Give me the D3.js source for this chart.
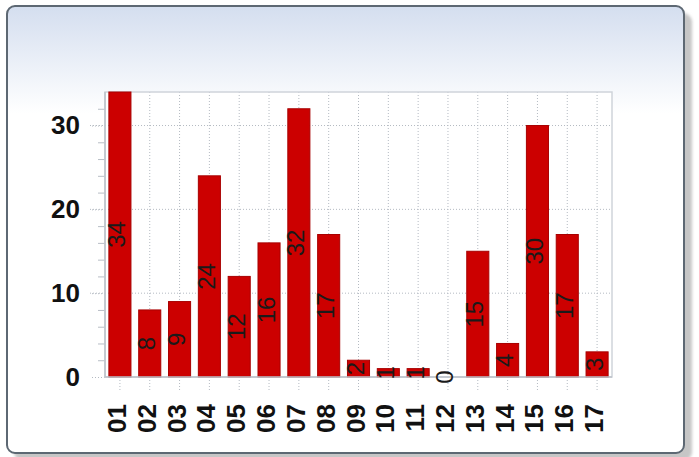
<!DOCTYPE html>
<html>
<head>
<meta charset="utf-8">
<script src="https://cdn.jsdelivr.net/npm/d3@7"></script>
<style>
html,body{margin:0;padding:0;background:#fff;}
svg{display:block;}
</style>
</head>
<body>
<svg id="chart" width="699" height="457"></svg>
<script>
const categories = ["01","02","03","04","05","06","07","08","09","10","11","12","13","14","15","16","17"];
const values = [34, 8, 9, 24, 12, 16, 32, 17, 2, 1, 1, 0, 15, 4, 30, 17, 3];
const yMajorTicks = [0, 10, 20, 30];
const yMinorTicks = [2,4,6,8,12,14,16,18,22,24,26,28,32];

const svg = d3.select("#chart");
const font = "'Liberation Sans', Arial, sans-serif";

const defs = svg.append("defs");
const grad = defs.append("linearGradient").attr("id","bg").attr("x1",0).attr("y1",0).attr("x2",0).attr("y2",1);
grad.append("stop").attr("offset","0").attr("stop-color","#d4deef");
grad.append("stop").attr("offset","0.24").attr("stop-color","#ffffff");
grad.append("stop").attr("offset","1").attr("stop-color","#ffffff");
const blur = defs.append("filter").attr("id","sh").attr("x","-5%").attr("y","-5%").attr("width","110%").attr("height","110%");
blur.append("feGaussianBlur").attr("stdDeviation",1.5);

// panel shadow + panel
svg.append("rect").attr("x",14).attr("y",13).attr("width",678).attr("height",448)
  .attr("rx",9).attr("fill","#c6c6c6").attr("filter","url(#sh)");
svg.append("rect").attr("x",7).attr("y",6).attr("width",677).attr("height",447)
  .attr("rx",8).attr("fill","url(#bg)").attr("stroke","#5d6873").attr("stroke-width",2);

const L = 105, R = 612, T = 92, B = 377;
const x = d3.scaleBand().domain(categories).range([L, R]).paddingInner(0.26).paddingOuter(0.13);
const y = d3.scaleLinear().domain([0, 34]).range([B, T]);

// plot background
svg.append("rect").attr("x",L).attr("y",T).attr("width",R-L).attr("height",B-T).attr("fill","#ffffff");

const gridColor = "#b4bac2";

// vertical dotted grid at bar centers (extending below axis as ticks)
svg.append("g").selectAll("line").data(categories).join("line")
  .attr("x1", d => x(d) + x.bandwidth()/2).attr("x2", d => x(d) + x.bandwidth()/2)
  .attr("y1", T).attr("y2", B + 15)
  .attr("stroke", gridColor).attr("stroke-width",1).attr("stroke-dasharray","1,2");

// horizontal dotted grid at major ticks (extending left of axis)
svg.append("g").selectAll("line").data(yMajorTicks.filter(v => v > 0)).join("line")
  .attr("x1", L - 15).attr("x2", R)
  .attr("y1", d => y(d)).attr("y2", d => y(d))
  .attr("stroke", gridColor).attr("stroke-width",1).attr("stroke-dasharray","1,2");

// minor ticks
const minorAxis = d3.axisLeft(y).tickValues(yMinorTicks).tickSize(7).tickFormat("");
const gm = svg.append("g").attr("transform",`translate(${L},0)`).call(minorAxis);
gm.select(".domain").remove();
gm.selectAll(".tick line").attr("stroke","#b8bec6");

// major y axis labels
const majorAxis = d3.axisLeft(y).tickValues(yMajorTicks).tickSize(15).tickPadding(10);
const gy = svg.append("g").attr("transform",`translate(${L},0)`).call(majorAxis);
gy.select(".domain").remove();
gy.selectAll(".tick line").attr("stroke", gridColor).attr("stroke-dasharray","1,2");
gy.selectAll(".tick text").attr("font-family", font).attr("font-size", 26).attr("font-weight","bold").attr("fill","#111");

// frame
svg.append("rect").attr("x",L).attr("y",T).attr("width",R-L).attr("height",B-T)
  .attr("fill","none").attr("stroke","#cfd4da").attr("stroke-width",1.5);
svg.append("line").attr("x1",L).attr("x2",L).attr("y1",T).attr("y2",B).attr("stroke","#bcc2ca").attr("stroke-width",1.5);

// bars
svg.append("g").selectAll("rect").data(values).join("rect")
  .attr("x", (d,i) => x(categories[i]))
  .attr("y", d => y(d))
  .attr("width", x.bandwidth())
  .attr("height", d => y(0) - y(d))
  .attr("fill", "#cc0000")
  .attr("stroke", "#a80000").attr("stroke-width", 1);

// x axis line
svg.append("line").attr("x1",L).attr("x2",R).attr("y1",B).attr("y2",B).attr("stroke","#bcc2ca").attr("stroke-width",1.5);

// value labels
svg.append("g").selectAll("text").data(values).join("text")
  .attr("transform", (d,i) => `translate(${x(categories[i]) + x.bandwidth()/2 - 3},${(y(d)+y(0))/2}) rotate(-90)`)
  .attr("text-anchor","middle").attr("dominant-baseline","central")
  .attr("font-family", font).attr("font-size", 24).attr("fill","#1a1a1a")
  .text(d => d);

// x axis labels
const xAxis = d3.axisBottom(x).tickSize(0).tickPadding(0);
const gx = svg.append("g").attr("transform",`translate(0,${B})`).call(xAxis);
gx.select(".domain").remove();
gx.selectAll(".tick text")
  .attr("transform","rotate(-90)")
  .attr("x", -27).attr("y", -3).attr("dy", null)
  .attr("text-anchor","end").attr("dominant-baseline","central")
  .attr("font-family", font).attr("font-size", 26).attr("font-weight","bold").attr("fill","#111");
</script>
</body>
</html>
